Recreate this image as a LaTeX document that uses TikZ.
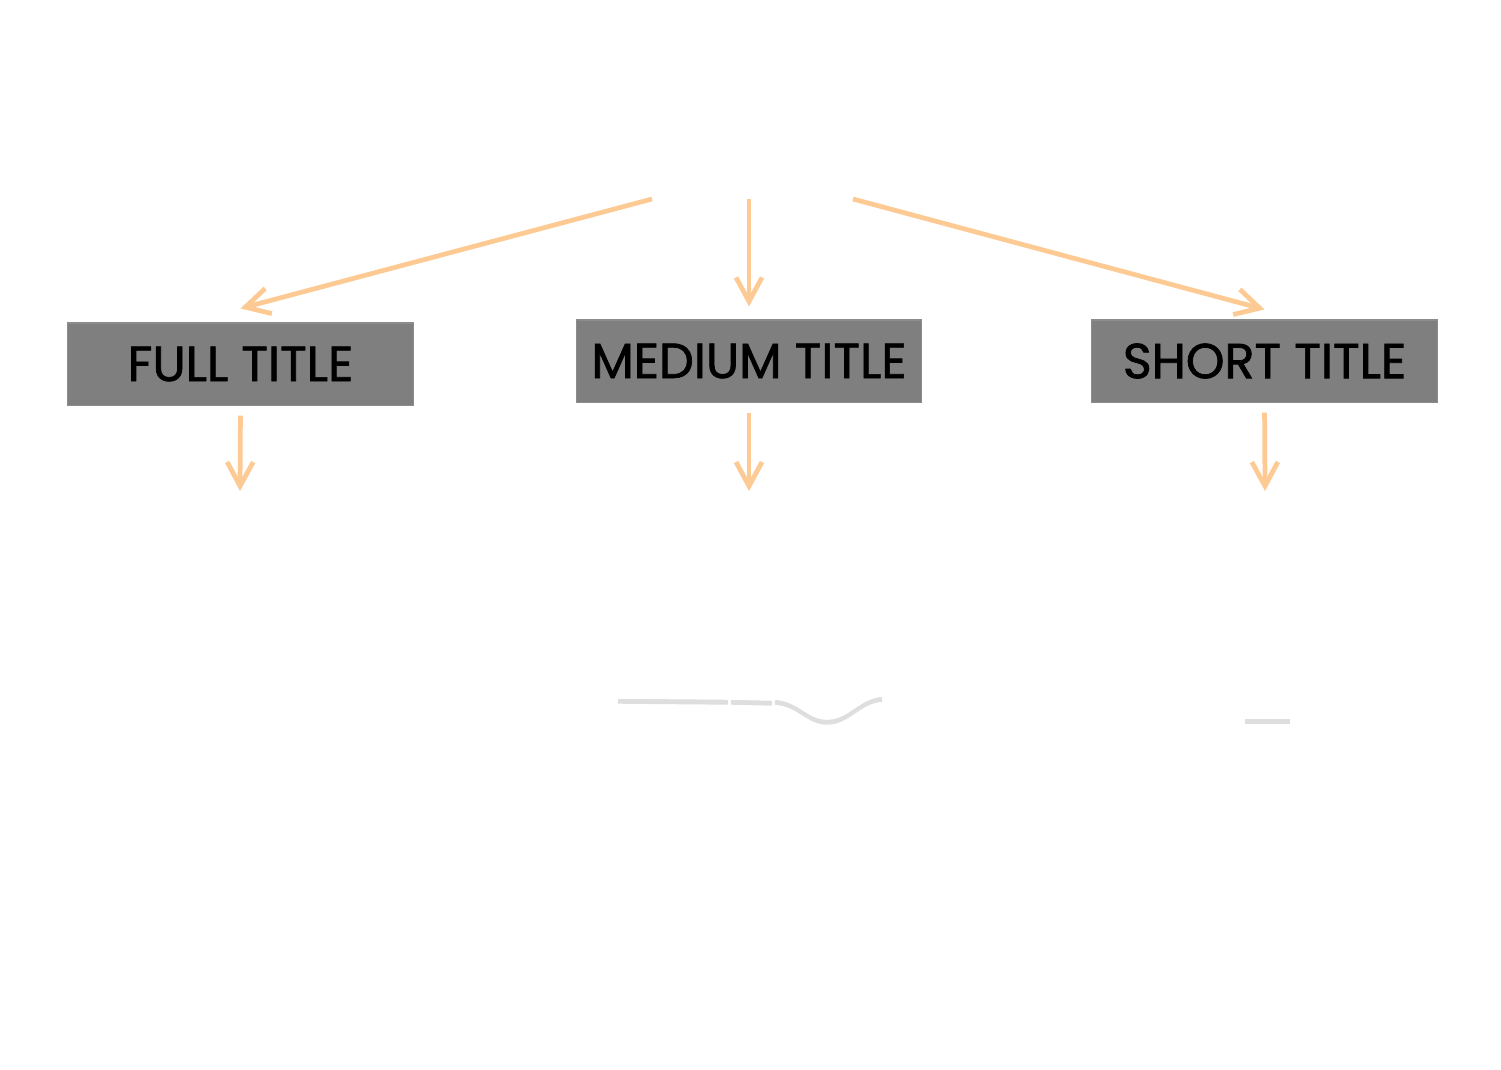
\documentclass[tikz,border=0pt]{standalone}
\usepackage{fontspec}
\setmainfont{Poppins}
\newfontfamily\titlefont{Poppins}[FakeBold=1.4]
\usetikzlibrary{arrows.meta}
\definecolor{titlegray}{RGB}{127,127,127}
\definecolor{arrowpeach}{RGB}{253,202,148}

\begin{document}
\begin{tikzpicture}[
    x=0.01cm, y=-0.01cm,
    titlebox/.style={rectangle, fill=titlegray, draw=black!45, line width=0.3pt, minimum width=3.45cm, minimum height=0.82cm, inner sep=0pt, font=\titlefont\fontsize{14}{16}\selectfont},
    flow/.style={draw=arrowpeach, line width=1.35pt, -{Straight Barb[length=2.4mm, width=2.6mm, line width=1.35pt]}},
    ink/.style={draw=white, line width=1pt, line cap=round},
    inkshadow/.style={draw=black!13, line width=1.8pt, transform canvas={yshift=-1pt}}
]
\useasboundingbox (0,0) rectangle (1501,1069);

% title boxes
\node[titlebox] (full) at (240.5,364) {FULL TITLE};
\node[titlebox] (medium) at (749,361) {MEDIUM TITLE};
\node[titlebox] (short) at (1264.5,361) {SHORT TITLE};

% free arrow ends
\coordinate (srcL) at (652,199);
\coordinate (srcM) at (749,199);
\coordinate (srcR) at (853,199);
\coordinate (outF) at (240,491);
\coordinate (outM) at (749,491);
\coordinate (outS) at (1265,491);

% arrows into the boxes
\draw[flow] (srcL) -- ([yshift=0.14cm]full.north);
\draw[flow] (srcM) -- ([yshift=0.13cm]medium.north);
\draw[flow] (srcR) -- ([yshift=0.1cm]short.north);

% arrows out of the boxes
\draw[flow, shorten <=0.1cm] (full.south) -- (outF);
\draw[flow, shorten <=0.1cm] (medium.south) -- (outM);
\draw[flow, shorten <=0.1cm] (short.south) -- (outS);

% white strokes under the arrows
\draw[inkshadow] (618,697) -- (728,698);
\draw[inkshadow] (731,698) -- (772,699);
\draw[inkshadow] (775,698) .. controls (800,700) and (808,718) .. (827,718) .. controls (848,718) and (858,697) .. (882,695);
\draw[inkshadow] (1245,717) -- (1290,717);
\draw[ink] (618,697) -- (728,698);
\draw[ink] (731,698) -- (772,699);
\draw[ink] (775,698) .. controls (800,700) and (808,718) .. (827,718) .. controls (848,718) and (858,697) .. (882,695);
\draw[ink] (1245,717) -- (1290,717);
\end{tikzpicture}
\end{document}
